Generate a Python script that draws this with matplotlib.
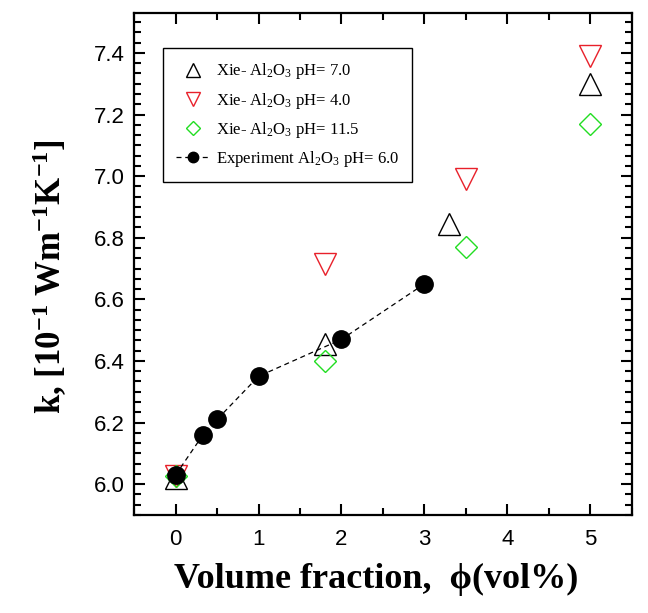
import numpy as np
import matplotlib
matplotlib.use("Agg")
import matplotlib.pyplot as plt
from matplotlib.ticker import MultipleLocator, AutoMinorLocator

plt.rcParams['mathtext.fontset'] = 'custom'
plt.rcParams['mathtext.rm'] = 'Liberation Serif'
plt.rcParams['mathtext.it'] = 'Liberation Serif:italic'
plt.rcParams['mathtext.bf'] = 'Liberation Serif:bold'

# experiment, Al2O3 pH 6.0
phi_exp = [0.0, 0.33, 0.5, 1.0, 2.0, 3.0]
k_exp = [6.03, 6.16, 6.21, 6.35, 6.47, 6.65]

# Xie data
phi_ph7 = [0.0, 1.8, 3.3, 5.0]
k_ph7 = [6.02, 6.455, 6.845, 7.30]
phi_ph4 = [0.0, 1.8, 3.5, 5.0]
k_ph4 = [6.025, 6.715, 6.99, 7.39]
phi_ph115 = [0.0, 1.8, 3.5, 5.0]
k_ph115 = [6.025, 6.40, 6.77, 7.17]

fig = plt.figure(figsize=(6.48, 6.13), dpi=100)
ax = fig.add_axes([0.207, 0.160, 0.768, 0.819])

ax.plot(phi_ph7, k_ph7, ls='none', marker='^', ms=16, mfc='none', mec='black',
        mew=1.0, label=r'Xie- Al$_2$O$_3$ pH= 7.0')
ax.plot(phi_ph4, k_ph4, ls='none', marker='v', ms=16, mfc='none', mec='#e8202a',
        mew=1.0, label=r'Xie- Al$_2$O$_3$ pH= 4.0')
ax.plot(phi_ph115, k_ph115, ls='none', marker='D', ms=11.5, mfc='none', mec='#22dd22',
        mew=1.0, label=r'Xie- Al$_2$O$_3$ pH= 11.5')
ax.plot(phi_exp, k_exp, ls=(0, (4, 3)), lw=0.9, color='black', marker='o', ms=12.5,
        mfc='black', mec='black', label=r'Experiment Al$_2$O$_3$ pH= 6.0')

ax.set_xlim(-0.5, 5.5)
ax.set_ylim(5.9, 7.53)
ax.xaxis.set_major_locator(MultipleLocator(1))
ax.xaxis.set_minor_locator(MultipleLocator(0.5))
ax.yaxis.set_major_locator(MultipleLocator(0.2))
ax.yaxis.set_minor_locator(AutoMinorLocator(6))
ax.yaxis.set_major_formatter(matplotlib.ticker.FormatStrFormatter('%.1f'))

for s in ax.spines.values():
    s.set_linewidth(1.6)
ax.tick_params(which='both', direction='in', top=True, right=True, width=1.5)
ax.tick_params(which='major', length=8)
ax.tick_params(which='minor', length=5)
ax.tick_params(axis='both', labelsize=16)
ax.tick_params(axis='x', pad=10)
ax.tick_params(axis='y', pad=7)
for lab in ax.get_xticklabels() + ax.get_yticklabels():
    lab.set_family(['Liberation Sans', 'DejaVu Sans'])

ax.set_xlabel('Volume fraction,  \u03d5(vol%)', fontsize=26, fontweight='bold',
              family=['Liberation Serif', 'DejaVu Serif'])
ax.xaxis.set_label_coords(0.487, -0.095)
ax.set_ylabel(r'k, [10$^{\mathbf{-1}}$ Wm$^{\mathbf{-1}}$K$^{\mathbf{-1}}$]', fontsize=25,
              fontweight='bold', family=['Liberation Serif', 'DejaVu Serif'])
ax.yaxis.set_label_coords(-0.13, 0.475)

leg = ax.legend(loc='upper left', bbox_to_anchor=(0.058, 0.93), borderaxespad=0,
                fancybox=False, edgecolor='black', framealpha=1,
                prop={'family': 'Liberation Serif', 'size': 12},
                markerscale=0.6, handlelength=2.0, handletextpad=0.35,
                labelspacing=0.55, borderpad=0.8)
leg.get_frame().set_linewidth(1.0)

fig.savefig('out.png', dpi=100)
